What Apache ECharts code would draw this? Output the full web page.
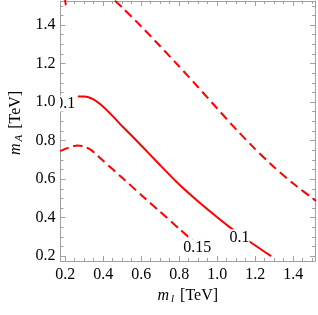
<!DOCTYPE html>
<html><head><meta charset="utf-8">
<script src="https://cdn.jsdelivr.net/npm/echarts@6/dist/echarts.min.js"></script>
<style>html,body{margin:0;padding:0;background:#fff}#c{width:318px;height:315px}</style>
</head><body><div id="c"></div>
<script>
// contour m_l [TeV], m_A [TeV]
const solid01 = [[0.266,1.029],[0.30,1.029],[0.35,1.013],[0.40,0.976],[0.45,0.927],[0.50,0.875],[0.60,0.775],[0.70,0.672],[0.80,0.572],[0.90,0.484],[1.00,0.402],[1.06,0.355],[1.16,0.283],[1.284,0.200]];
const dashLower = [[0.174,0.745],[0.20,0.757],[0.23,0.768],[0.266,0.775],[0.30,0.770],[0.335,0.752],[0.37,0.722],[0.40,0.695],[0.50,0.607],[0.60,0.518],[0.70,0.430],[0.80,0.342],[0.90,0.255],[0.967,0.200]];
const dashUpper = [[0.462,1.526],[0.50,1.491],[0.60,1.393],[0.70,1.290],[0.80,1.185],[0.90,1.077],[1.00,0.967],[1.10,0.858],[1.20,0.756],[1.30,0.662],[1.40,0.577],[1.52,0.487]];
const dashCorner = [[0.199,1.53],[0.203,1.505]];
const contourLabels = [[0.20,0.993,'0.1'],[1.118,0.298,'0.1'],[0.895,0.243,'0.15']];
const majorTicks = [0.2,0.4,0.6,0.8,1.0,1.2,1.4];
const minorTicks = [0.25,0.3,0.35,0.45,0.5,0.55,0.65,0.7,0.75,0.85,0.9,0.95,1.05,1.1,1.15,1.25,1.3,1.35,1.45,1.5];

const FONT = 'Liberation Serif';
const XMIN = 0.175, XMAX = 1.515, YMIN = 0.175, YMAX = 1.525;
const frameColor = '#a0a0a0';

function axis(pos, min, max, major, showLine, showLabel, ticks, len) {
  return {
    type: 'value', position: pos, min: min, max: max,
    axisLine: {show: showLine, onZero: false, lineStyle: {color: frameColor, width: 1}},
    axisTick: {show: true, inside: true, length: len, customValues: ticks, lineStyle: {color: frameColor, width: 1}},
    axisLabel: showLabel ? {show: true, customValues: major, margin: pos === 'left' ? 5 : 6, color: '#000', fontFamily: FONT, fontSize: 16,
      formatter: v => v.toFixed(1)} : {show: false},
    splitLine: {show: false}
  };
}

const xAxes = [
  Object.assign(axis('bottom', XMIN, XMAX, majorTicks, true, true, majorTicks, 5), {
    name: '{i|m}{s|l} [TeV]', nameLocation: 'middle', nameGap: 26,
    nameTextStyle: {fontFamily: FONT, fontSize: 16, color: '#000',
      rich: {i: {fontFamily: FONT, fontSize: 16, fontStyle: 'italic', color: '#000'},
             s: {fontFamily: FONT, fontSize: 11, fontStyle: 'italic', color: '#000', padding: [6, 2, 0, 2]}}}
  }),
  axis('bottom', XMIN, XMAX, majorTicks, false, false, minorTicks, 3),
  axis('top', XMIN, XMAX, majorTicks, true, false, majorTicks, 5),
  axis('top', XMIN, XMAX, majorTicks, false, false, minorTicks, 3)
];
const yAxes = [
  Object.assign(axis('left', YMIN, YMAX, majorTicks, true, true, majorTicks, 5), {
    name: '{i|m}{s|A} [TeV]', nameLocation: 'middle', nameGap: 36,
    nameTextStyle: {fontFamily: FONT, fontSize: 16, color: '#000', padding: [0, 0, 0, 16],
      rich: {i: {fontFamily: FONT, fontSize: 16, fontStyle: 'italic', color: '#000'},
             s: {fontFamily: FONT, fontSize: 11, fontStyle: 'italic', color: '#000', padding: [6, 2, 0, 2]}}}
  }),
  axis('left', YMIN, YMAX, majorTicks, false, false, minorTicks, 3),
  axis('right', YMIN, YMAX, majorTicks, true, false, majorTicks, 5),
  axis('right', YMIN, YMAX, majorTicks, false, false, minorTicks, 3)
];

function line(data, dashed) {
  return {type: 'line', data: data, xAxisIndex: 0, yAxisIndex: 0, showSymbol: false, symbol: 'none',
    smooth: 0.2, clip: true, z: 2, silent: true,
    lineStyle: {color: '#ff0000', width: 2, type: dashed ? [9, 5] : 'solid'}};
}

const chart = echarts.init(document.getElementById('c'), null, {renderer: 'canvas'});
chart.setOption({
  animation: false,
  backgroundColor: '#fff',
  grid: {left: 57, right: 3, top: 1, bottom: 54, containLabel: false},
  xAxis: xAxes,
  yAxis: yAxes,
  series: [
    line(solid01, false),
    line(dashLower, true),
    line(dashUpper, true),
    line(dashCorner, true),
    {
      type: 'custom', xAxisIndex: 0, yAxisIndex: 0, clip: true, z: 5, silent: true,
      data: contourLabels,
      renderItem: function (params, api) {
        const p = api.coord([api.value(0), api.value(1)]);
        return {type: 'text', x: p[0], y: p[1],
          style: {text: contourLabels[params.dataIndex][2], fontFamily: FONT, fontSize: 16, fill: '#000',
            align: 'center', verticalAlign: 'middle', backgroundColor: '#fff', padding: [0, 0]}};
      }
    }
  ]
});
</script>
</body></html>
